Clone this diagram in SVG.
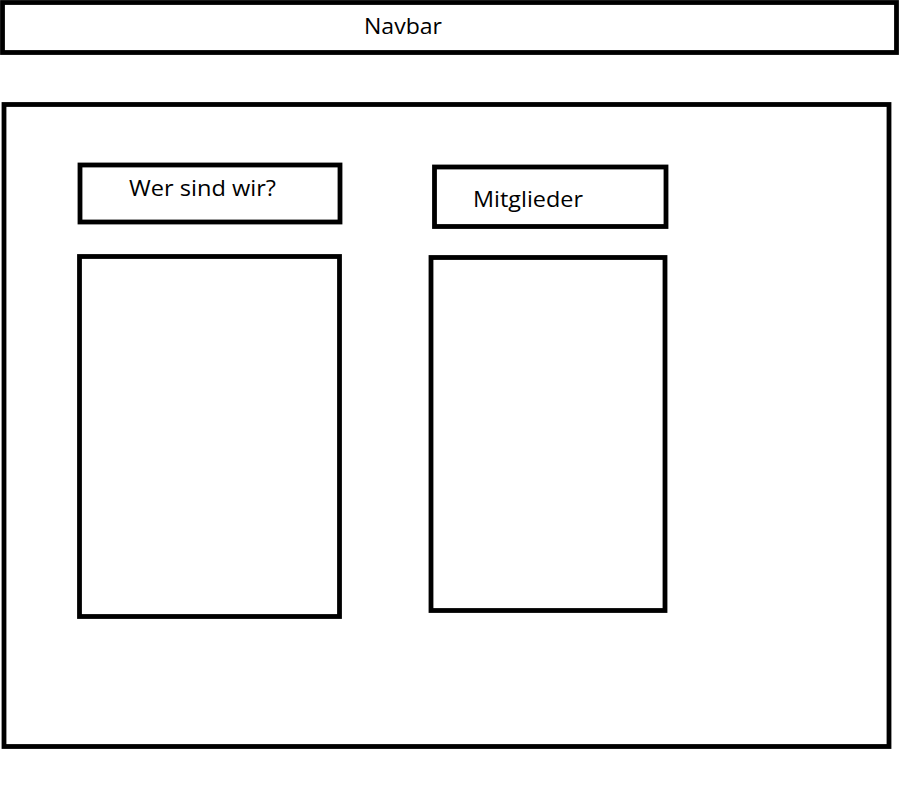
<svg xmlns="http://www.w3.org/2000/svg" width="899" height="797" viewBox="0 0 899 797">
<style>
.box{fill:none;stroke:#000;stroke-width:4.8}
.lbl{font-family:"Open Sans","Liberation Sans",sans-serif;font-size:22px;fill:#000}
</style>
<rect width="899" height="797" fill="#fff"/>
<g id="navbar">
<rect class="box" x="2.5" y="2.5" width="894" height="50"/>
<text class="lbl" x="364" y="34" textLength="78" lengthAdjust="spacingAndGlyphs">Navbar</text>
</g>
<g id="main">
<rect class="box" x="4" y="104.5" width="885" height="642"/>
</g>
<g id="wer-header">
<rect class="box" x="80" y="165" width="260" height="57"/>
<text class="lbl" x="129" y="196" textLength="147" lengthAdjust="spacingAndGlyphs">Wer sind wir?</text>
</g>
<g id="wer-content">
<rect class="box" x="79.5" y="256.5" width="260" height="360"/>
</g>
<g id="mitglieder-header">
<rect class="box" x="434.5" y="167" width="231.5" height="59.5"/>
<text class="lbl" x="473" y="207" textLength="110" lengthAdjust="spacingAndGlyphs">Mitglieder</text>
</g>
<g id="mitglieder-content">
<rect class="box" x="431" y="257.5" width="234" height="353"/>
</g>
<g id="connectors"></g>
</svg>
